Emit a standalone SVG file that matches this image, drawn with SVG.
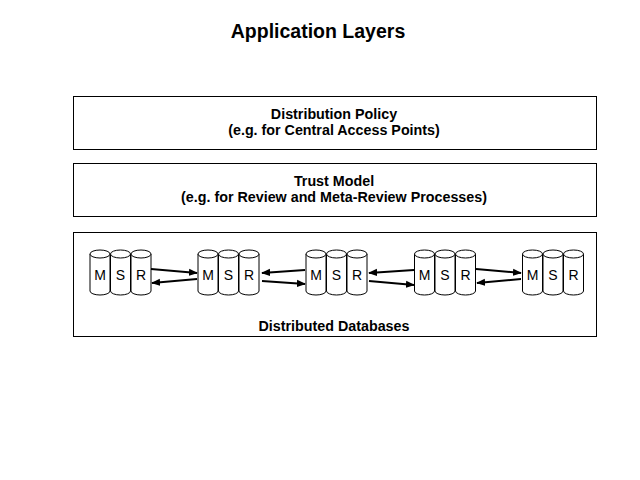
<svg xmlns="http://www.w3.org/2000/svg" xmlns:xlink="http://www.w3.org/1999/xlink" width="640" height="480" viewBox="0 0 640 480">
<style>
.box{fill:#fff;stroke:#000;stroke-width:1}
.t{font-family:"Liberation Sans",Arial,sans-serif;font-weight:bold;font-size:14.3px;text-anchor:middle;fill:#000}
.title{font-size:19.5px}
.c{font-family:"Liberation Sans",Arial,sans-serif;font-size:14px;text-anchor:middle;fill:#000}
.cyl{fill:#fff;stroke:#000;stroke-width:1}
.ln{stroke:#000;stroke-width:2;fill:none;marker-end:url(#ah)}
</style>
<defs>
<marker id="ah" viewBox="0 0 10 10" refX="9" refY="5" markerWidth="4.5" markerHeight="4.5" orient="auto" markerUnits="strokeWidth">
<path d="M0,1 L10,5 L0,9 z" fill="#000"/>
</marker>
<g id="cy">
<path class="cyl" d="M0,4 V41 A10,4 0 0 0 20,41 V4"/>
<ellipse class="cyl" cx="10" cy="4" rx="10" ry="4"/>
</g>
<g id="grp">
<use xlink:href="#cy" x="0"/>
<use xlink:href="#cy" x="20.5"/>
<use xlink:href="#cy" x="41"/>
<text class="c" x="10" y="30">M</text>
<text class="c" x="30.5" y="30">S</text>
<text class="c" x="51" y="30">R</text>
</g>
</defs>
<rect width="640" height="480" fill="#fff"/>
<text class="t title" x="318" y="38">Application Layers</text>
<g id="policy">
<rect class="box" x="73.5" y="96.5" width="523" height="53"/>
<text class="t" x="334" y="119">Distribution Policy</text>
<text class="t" x="334" y="135">(e.g. for Central Access Points)</text>
</g>
<g id="trust">
<rect class="box" x="73.5" y="163.5" width="523" height="53"/>
<text class="t" x="334" y="186">Trust Model</text>
<text class="t" x="334" y="202">(e.g. for Review and Meta-Review Processes)</text>
</g>
<g id="databases">
<rect class="box" x="73.5" y="232.5" width="523" height="104"/>
<text class="t" x="334" y="331">Distributed Databases</text>
</g>
<g id="db1"><use xlink:href="#grp" x="90" y="250"/></g>
<g id="db2"><use xlink:href="#grp" x="198" y="250"/></g>
<g id="db3"><use xlink:href="#grp" x="306" y="250"/></g>
<g id="db4"><use xlink:href="#grp" x="414.5" y="250"/></g>
<g id="db5"><use xlink:href="#grp" x="522.5" y="250"/></g>
<g id="connectors">
<line class="ln" x1="151" y1="269" x2="197" y2="273"/>
<line class="ln" x1="197" y1="279" x2="152" y2="283"/>
<line class="ln" x1="305" y1="270" x2="262" y2="273"/>
<line class="ln" x1="262" y1="281" x2="305" y2="284"/>
<line class="ln" x1="414" y1="270" x2="369" y2="273"/>
<line class="ln" x1="369" y1="281" x2="414" y2="285"/>
<line class="ln" x1="476" y1="269" x2="521" y2="273"/>
<line class="ln" x1="521" y1="279" x2="477" y2="283"/>
</g>
</svg>
